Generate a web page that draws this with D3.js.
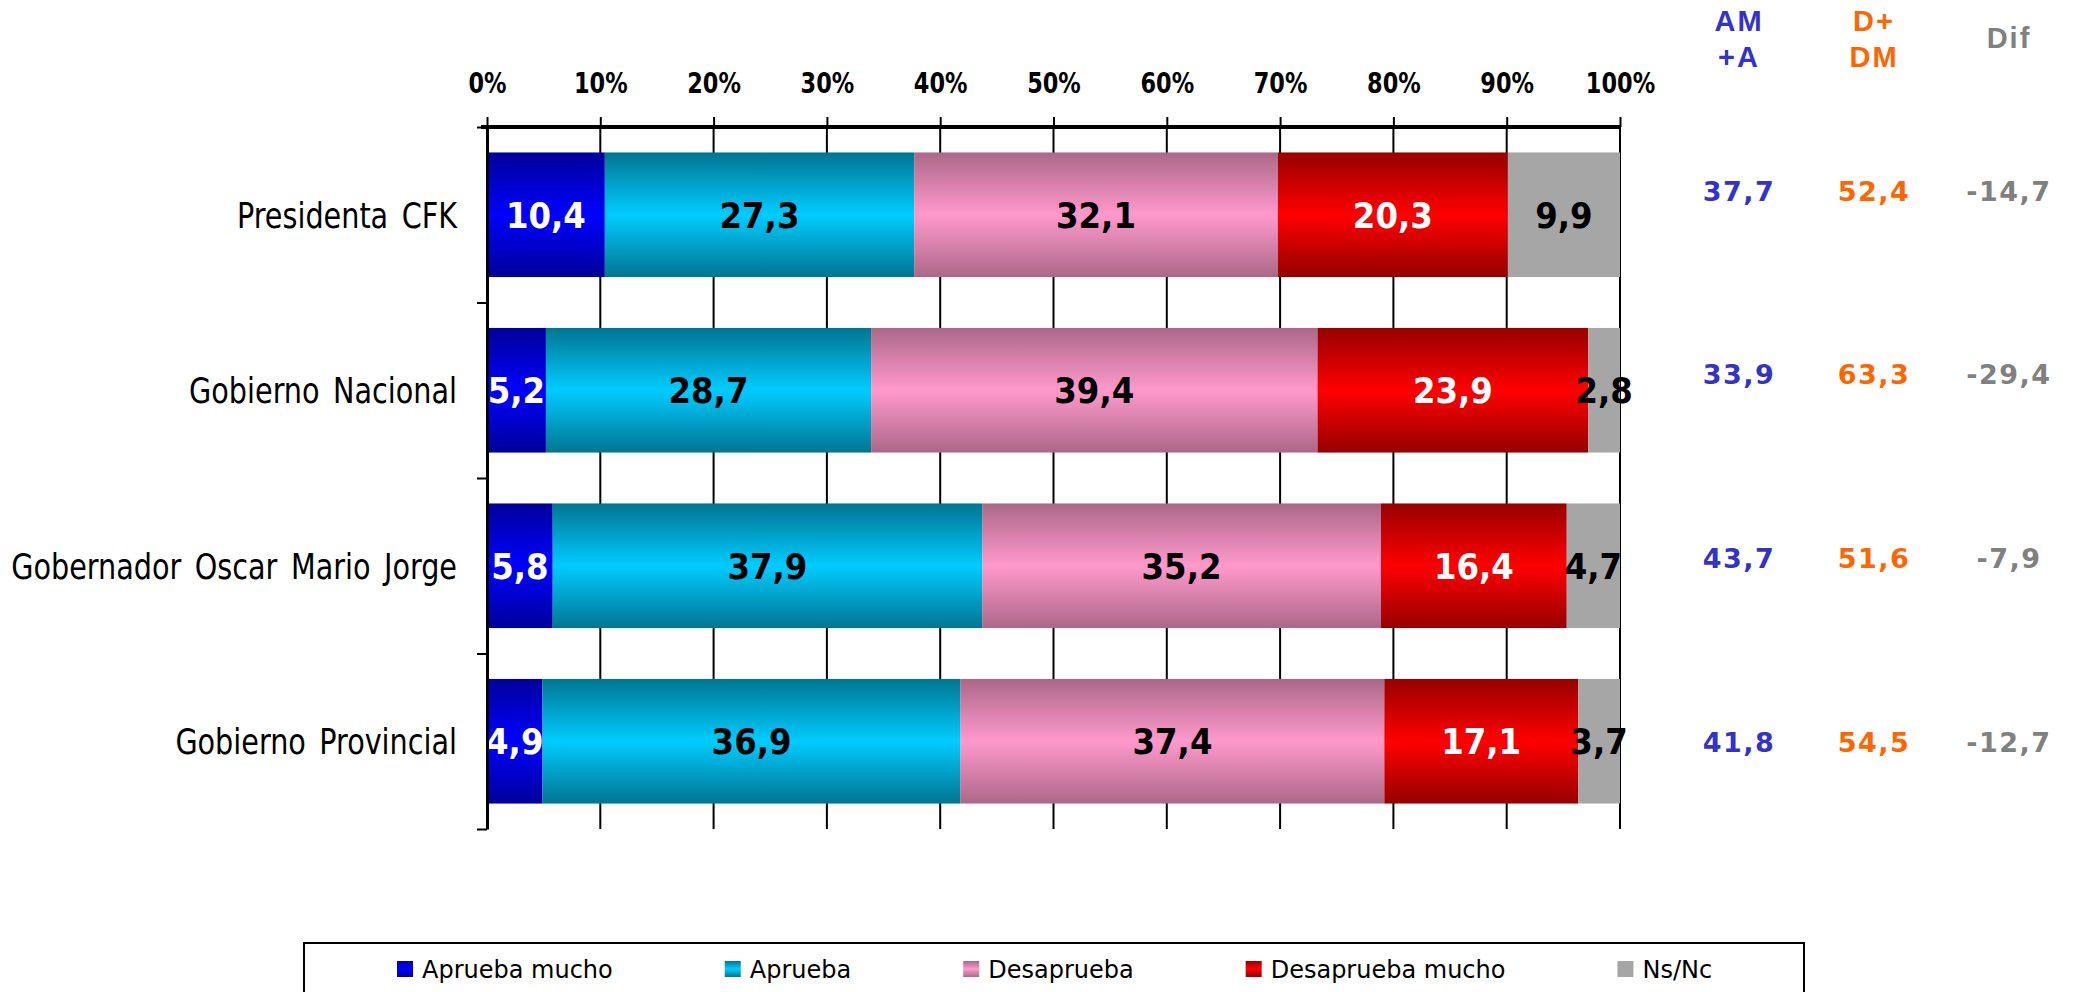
<!DOCTYPE html>
<html>
<head>
<meta charset="utf-8">
<script src="https://cdn.jsdelivr.net/npm/d3@7"></script>
<style>
  body { margin: 0; background: #fff; }
  svg { display: block; }
</style>
</head>
<body>
<div id="chart"></div>
<script>
// data
const categories = ["Presidenta CFK", "Gobierno Nacional", "Gobernador Oscar Mario Jorge", "Gobierno Provincial"];
const seriesNames = ["Aprueba mucho", "Aprueba", "Desaprueba", "Desaprueba mucho", "Ns/Nc"];
const apruebaMucho = [10.4, 5.2, 5.8, 4.9];
const aprueba = [27.3, 28.7, 37.9, 36.9];
const desaprueba = [32.1, 39.4, 35.2, 37.4];
const desapruebaMucho = [20.3, 23.9, 16.4, 17.1];
const nsNc = [9.9, 2.8, 4.7, 3.7];
const amMasA = [37.7, 33.9, 43.7, 41.8];
const dMasDm = [52.4, 63.3, 51.6, 54.5];
const dif = [-14.7, -29.4, -7.9, -12.7];
const xTicks = [0, 10, 20, 30, 40, 50, 60, 70, 80, 90, 100];

const W = 2081, H = 992;
const margin = { top: 127, left: 487, right: 461, bottom: 163 };

const svg = d3.select("#chart").append("svg")
    .attr("width", W)
    .attr("height", H);

// gradients: dark edges, bright middle
const grads = [
  { id: "g0", edge: "#000099", mid: "#0000ff" },
  { id: "g1", edge: "#007592", mid: "#00ccff" },
  { id: "g2", edge: "#ab6888", mid: "#ff99cc" },
  { id: "g3", edge: "#960000", mid: "#ff0000" },
  { id: "g4", edge: "#a6a6a6", mid: "#a6a6a6" }
];
const defs = svg.append("defs");
grads.forEach(function (g) {
  const lg = defs.append("linearGradient")
      .attr("id", g.id)
      .attr("x1", 0).attr("y1", 0).attr("x2", 0).attr("y2", 1);
  lg.append("stop").attr("offset", "0%").attr("stop-color", g.edge);
  lg.append("stop").attr("offset", "50%").attr("stop-color", g.mid);
  lg.append("stop").attr("offset", "100%").attr("stop-color", g.edge);
});
const labelColor = ["#fff", "#000", "#000", "#fff", "#000"];

const rows = categories.map(function (c, i) {
  return { cat: c, s0: apruebaMucho[i], s1: aprueba[i], s2: desaprueba[i], s3: desapruebaMucho[i], s4: nsNc[i] };
});
const stack = d3.stack().keys(["s0", "s1", "s2", "s3", "s4"]);
const stacked = stack(rows);

const x = d3.scaleLinear().domain([0, 100]).range([margin.left, W - margin.right]);
const y = d3.scaleBand().domain(categories).range([margin.top, H - margin.bottom]).paddingInner(0.29).paddingOuter(0.145);
const yEdge = d3.scaleLinear().domain([0, categories.length]).range([margin.top, H - margin.bottom]);

const fmt = function (v) { return d3.format(".1f")(v).replace(".", ",").replace("−", "-"); };

// gridlines (behind bars)
svg.append("g")
  .selectAll("line")
  .data(xTicks)
  .enter().append("line")
    .attr("x1", function (d) { return x(d); })
    .attr("x2", function (d) { return x(d); })
    .attr("y1", margin.top)
    .attr("y2", H - margin.bottom)
    .attr("stroke", "#000")
    .attr("stroke-width", 2);

// bars
const layers = svg.append("g").selectAll("g")
  .data(stacked)
  .enter().append("g")
    .attr("fill", function (d, i) { return "url(#g" + i + ")"; });

layers.selectAll("rect")
  .data(function (d) { return d; })
  .enter().append("rect")
    .attr("x", function (d) { return x(d[0]); })
    .attr("y", function (d) { return y(d.data.cat); })
    .attr("width", function (d) { return x(d[1]) - x(d[0]); })
    .attr("height", y.bandwidth());

// value labels
stacked.forEach(function (layer, i) {
  svg.append("g").selectAll("text")
    .data(layer)
    .enter().append("text")
      .attr("x", function (d) { return (x(d[0]) + x(d[1])) / 2; })
      .attr("y", function (d) { return y(d.data.cat) + y.bandwidth() / 2; })
      .attr("dy", "0.36em")
      .attr("text-anchor", "middle")
      .attr("font-family", "'DejaVu Sans Condensed', 'DejaVu Sans', sans-serif")
      .attr("font-weight", "bold")
      .attr("font-size", 36)
      .attr("fill", labelColor[i])
      .text(function (d) { return fmt(d[1] - d[0]); });
});

// top axis
const xAxis = svg.append("g")
    .attr("transform", "translate(0," + margin.top + ")")
    .call(d3.axisTop(x).tickValues(xTicks).tickFormat(function (d) { return d + "%"; }).tickSize(10).tickPadding(24));
xAxis.select(".domain").attr("stroke-width", 4).attr("d", "M" + (margin.left - 6) + ",0H" + x(100));
xAxis.selectAll(".tick line").attr("stroke-width", 2);
xAxis.selectAll("text")
    .attr("font-family", "'DejaVu Sans Condensed', sans-serif")
    .attr("font-weight", "bold")
    .attr("font-size", 29)
    .attr("dy", 0)
    .attr("transform", "scale(0.86,1)")
    .attr("fill", "#000");

// left axis with ticks at band edges
const yAxis = svg.append("g")
    .attr("transform", "translate(" + margin.left + ",0)")
    .call(d3.axisLeft(yEdge).tickValues(d3.range(categories.length + 1)).tickFormat("").tickSize(10).tickSizeOuter(0));
yAxis.select(".domain").attr("stroke-width", 3);
yAxis.selectAll(".tick line").attr("stroke-width", 2);

// category labels (narrow face squeezed horizontally)
svg.append("g").selectAll("text")
  .data(categories)
  .enter().append("text")
    .attr("transform", function (d) {
      return "translate(" + (margin.left - 30) + "," + (y(d) + y.bandwidth() / 2) + ") scale(0.885,1)";
    })
    .attr("dy", "0.36em")
    .attr("text-anchor", "end")
    .attr("font-family", "'DejaVu Sans Condensed', sans-serif")
    .attr("font-size", 36)
    .attr("word-spacing", 5)
    .attr("fill", "#000")
    .text(function (d) { return d; });

// side table
const rowY = d3.scalePoint().domain(categories).range([191, 742]);
const cols = [
  { head: ["AM", "+A"], vals: amMasA, color: "#3333cc", cx: 1739 },
  { head: ["D+", "DM"], vals: dMasDm, color: "#ff6600", cx: 1874 },
  { head: ["Dif"], vals: dif, color: "#808080", cx: 2009 }
];
cols.forEach(function (c) {
  const hy = c.head.length === 2 ? [31, 67] : [48];
  c.head.forEach(function (h, k) {
    svg.append("text")
      .attr("x", c.cx).attr("y", hy[k])
      .attr("text-anchor", "middle")
      .attr("font-family", "'Liberation Sans', Arial, sans-serif")
      .attr("font-weight", "bold")
      .attr("font-size", 29)
      .attr("letter-spacing", 2)
      .attr("fill", c.color)
      .text(h);
  });
  svg.append("g").selectAll("text")
    .data(c.vals)
    .enter().append("text")
      .attr("x", c.cx)
      .attr("y", function (d, i) { return rowY(categories[i]); })
      .attr("dy", "0.36em")
      .attr("text-anchor", "middle")
      .attr("font-family", "'DejaVu Sans', sans-serif")
      .attr("font-weight", "bold")
      .attr("font-size", 27)
      .attr("letter-spacing", 1.5)
      .attr("fill", c.color)
      .text(function (d) { return fmt(d); });
});

// legend
const legend = svg.append("g");
legend.append("rect")
    .attr("x", 304).attr("y", 943)
    .attr("width", 1500).attr("height", 80)
    .attr("fill", "#fff")
    .attr("stroke", "#000")
    .attr("stroke-width", 2);

let lx = 397;
seriesNames.forEach(function (name, i) {
  legend.append("rect")
    .attr("x", lx).attr("y", 961)
    .attr("width", 16).attr("height", 16)
    .attr("fill", "url(#g" + i + ")");
  const t = legend.append("text")
    .attr("x", lx + 25).attr("y", 978)
    .attr("font-family", "'DejaVu Sans', Verdana, sans-serif")
    .attr("font-size", 24)
    .attr("fill", "#000")
    .text(name);
  lx += 25 + t.node().getComputedTextLength() + 112;
});
</script>
</body>
</html>
